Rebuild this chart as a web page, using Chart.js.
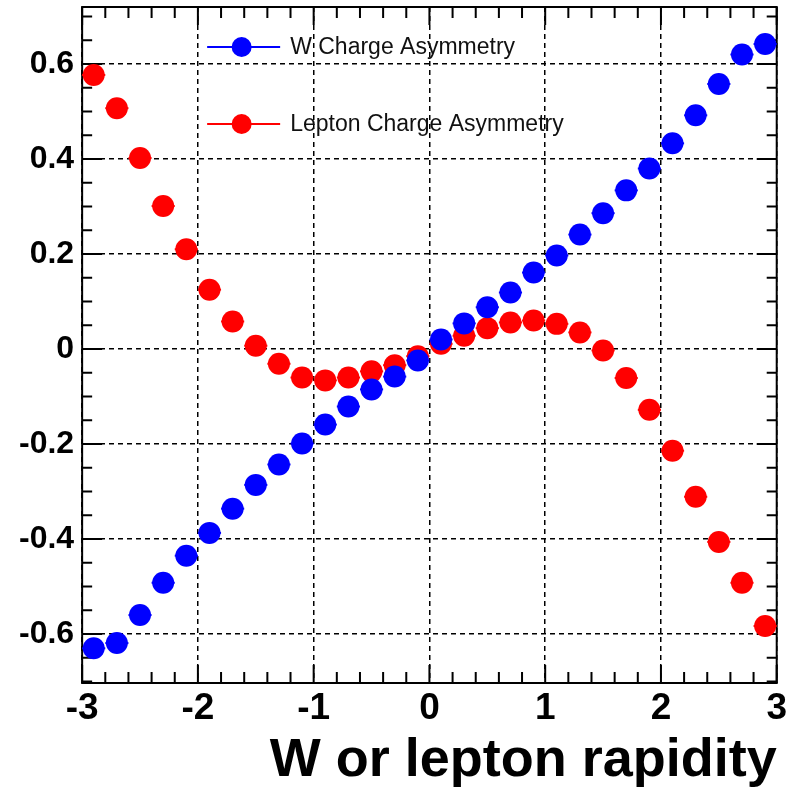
<!DOCTYPE html>
<html>
<head>
<meta charset="utf-8">
<script src="https://cdn.jsdelivr.net/npm/chart.js@4.4.1/dist/chart.umd.min.js"></script>
<style>
  html, body { margin: 0; padding: 0; background: #fff; }
</style>
</head>
<body>
<canvas id="asymChart" width="794" height="789"></canvas>
<script>
// bin centres (rapidity)
const rapidity = [-2.9, -2.7, -2.5, -2.3, -2.1, -1.9, -1.7, -1.5, -1.3, -1.1,
                  -0.9, -0.7, -0.5, -0.3, -0.1, 0.1, 0.3, 0.5, 0.7, 0.9,
                  1.1, 1.3, 1.5, 1.7, 1.9, 2.1, 2.3, 2.5, 2.7, 2.9];

// W charge asymmetry
const wAsym = [-0.630, -0.619, -0.560, -0.492, -0.435, -0.387, -0.336, -0.286, -0.243, -0.199,
               -0.159, -0.121, -0.085, -0.058, -0.024, 0.020, 0.054, 0.088, 0.119, 0.161,
               0.197, 0.241, 0.286, 0.334, 0.380, 0.433, 0.492, 0.558, 0.620, 0.642];

// lepton charge asymmetry
const lepAsym = [0.577, 0.507, 0.402, 0.301, 0.210, 0.125, 0.058, 0.007, -0.031, -0.060,
                 -0.066, -0.060, -0.047, -0.034, -0.015, 0.011, 0.028, 0.044, 0.056, 0.060,
                 0.053, 0.035, -0.003, -0.061, -0.128, -0.214, -0.311, -0.406, -0.492, -0.583];

const xTicks = [-3, -2, -1, 0, 1, 2, 3];
const yTicks = [-0.6, -0.4, -0.2, 0, 0.2, 0.4, 0.6];
const xRange = [-3, 3];
const yRange = [-0.703, 0.72];
const xMinorStep = 0.2;
const yMinorStep = 0.05;
const binHalfWidth = 0.1;

const seriesLabels = ['W Charge Asymmetry', 'Lepton Charge Asymmetry'];
const seriesColors = ['#0000ff', '#ff0000'];

const fontFamily = '"Liberation Sans", Arial, Helvetica, sans-serif';

// kader + ticks ke dalam (gaya ROOT), plus error bar horizontal
const frameTicks = {
    id: 'frameTicks',
    beforeDatasetsDraw(chart) {
        const { ctx, chartArea: a, scales: { x, y } } = chart;
        ctx.save();
        ctx.strokeStyle = '#000';
        ctx.lineWidth = 2;
        ctx.strokeRect(a.left, a.top, a.right - a.left, a.bottom - a.top);

        const nx = Math.round((xRange[1] - xRange[0]) / xMinorStep);
        for (let i = 0; i <= nx; i++) {
            const v = xRange[0] + i * xMinorStep;
            const major = Math.abs(v - Math.round(v)) < 1e-6;
            const len = major ? 18 : 11;
            const px = x.getPixelForValue(v);
            ctx.beginPath();
            ctx.moveTo(px, a.bottom); ctx.lineTo(px, a.bottom - len);
            ctx.moveTo(px, a.top); ctx.lineTo(px, a.top + len);
            ctx.stroke();
        }

        const y0 = Math.ceil(yRange[0] / yMinorStep);
        const y1 = Math.floor(yRange[1] / yMinorStep);
        for (let i = y0; i <= y1; i++) {
            const v = i * yMinorStep;
            const major = i % 4 === 0;
            const len = major ? 20 : 10;
            const py = y.getPixelForValue(v);
            ctx.beginPath();
            ctx.moveTo(a.left, py); ctx.lineTo(a.left + len, py);
            ctx.moveTo(a.right, py); ctx.lineTo(a.right - len, py);
            ctx.stroke();
        }

        // error bar (lebar bin)
        chart.data.datasets.forEach(ds => {
            ctx.strokeStyle = ds.borderColor;
            ctx.lineWidth = 2;
            ds.data.forEach(p => {
                const py = y.getPixelForValue(p.y);
                ctx.beginPath();
                ctx.moveTo(x.getPixelForValue(p.x - binHalfWidth), py);
                ctx.lineTo(x.getPixelForValue(p.x + binHalfWidth), py);
                ctx.stroke();
            });
        });
        ctx.restore();
    }
};

// legenda di dalam area plot
const insideLegend = {
    id: 'insideLegend',
    afterDatasetsDraw(chart) {
        const { ctx, chartArea: a } = chart;
        const rows = [40, 117];
        ctx.save();
        chart.data.datasets.forEach((ds, i) => {
            const ly = a.top + rows[i];
            const lx0 = a.left + 125, lx1 = a.left + 198;
            ctx.strokeStyle = ds.borderColor;
            ctx.lineWidth = 2;
            ctx.beginPath();
            ctx.moveTo(lx0, ly); ctx.lineTo(lx1, ly);
            ctx.stroke();
            ctx.fillStyle = ds.backgroundColor;
            ctx.beginPath();
            ctx.arc((lx0 + lx1) / 2 - 2, ly, 10, 0, Math.PI * 2);
            ctx.fill();
            ctx.fillStyle = '#111';
            ctx.font = '23px ' + fontFamily;
            ctx.textBaseline = 'middle';
            ctx.fillText(ds.label, a.left + 208, ly + 1);
        });
        ctx.restore();
    }
};

const ctx = document.getElementById('asymChart').getContext('2d');

new Chart(ctx, {
    type: 'scatter',
    data: {
        datasets: [
            {
                label: seriesLabels[0],
                data: rapidity.map((r, i) => ({ x: r, y: wAsym[i] })),
                borderColor: seriesColors[0],
                backgroundColor: seriesColors[0],
                pointRadius: 11,
                pointBorderWidth: 0,
                clip: false
            },
            {
                label: seriesLabels[1],
                data: rapidity.map((r, i) => ({ x: r, y: lepAsym[i] })),
                borderColor: seriesColors[1],
                backgroundColor: seriesColors[1],
                pointRadius: 11,
                pointBorderWidth: 0,
                clip: false
            }
        ]
    },
    options: {
        responsive: false,
        animation: false,
        // autoPadding mati: radius titik jangan menambah margin
        layout: { autoPadding: false, padding: { left: 11, right: 17, top: 7, bottom: 1 } },
        plugins: { legend: { display: false }, tooltip: { enabled: false } },
        scales: {
            x: {
                type: 'linear',
                min: xRange[0],
                max: xRange[1],
                afterBuildTicks: scale => { scale.ticks = xTicks.map(v => ({ value: v })); },
                ticks: {
                    color: '#000',
                    padding: 7,
                    maxRotation: 0,
                    font: { family: fontFamily, size: 37, weight: 'bold', lineHeight: 1 },
                    callback: v => String(v)
                },
                grid: { color: '#000', lineWidth: 1.5, drawTicks: false },
                border: { display: false, dash: [5, 4] },
                title: {
                    display: true,
                    text: 'W or lepton rapidity',
                    align: 'end',
                    color: '#000',
                    padding: { top: 0, bottom: 0 },
                    font: { family: fontFamily, size: 54, weight: 'bold', lineHeight: 1 }
                }
            },
            y: {
                type: 'linear',
                min: yRange[0],
                max: yRange[1],
                afterBuildTicks: scale => { scale.ticks = yTicks.map(v => ({ value: v })); },
                // label atas/bawah tidak menyentuh tepi, jadi padding ekstra tidak perlu
                afterFit: scale => { scale.paddingTop = 0; scale.paddingBottom = 0; },
                ticks: {
                    color: '#000',
                    padding: 8,
                    font: { family: fontFamily, size: 32, weight: 'bold' },
                    callback: v => (Math.abs(v) < 1e-9 ? '0' : v.toFixed(1))
                },
                grid: { color: '#000', lineWidth: 1.5, drawTicks: false },
                border: { display: false, dash: [5, 4] }
            }
        }
    },
    plugins: [frameTicks, insideLegend]
});
</script>
</body>
</html>
